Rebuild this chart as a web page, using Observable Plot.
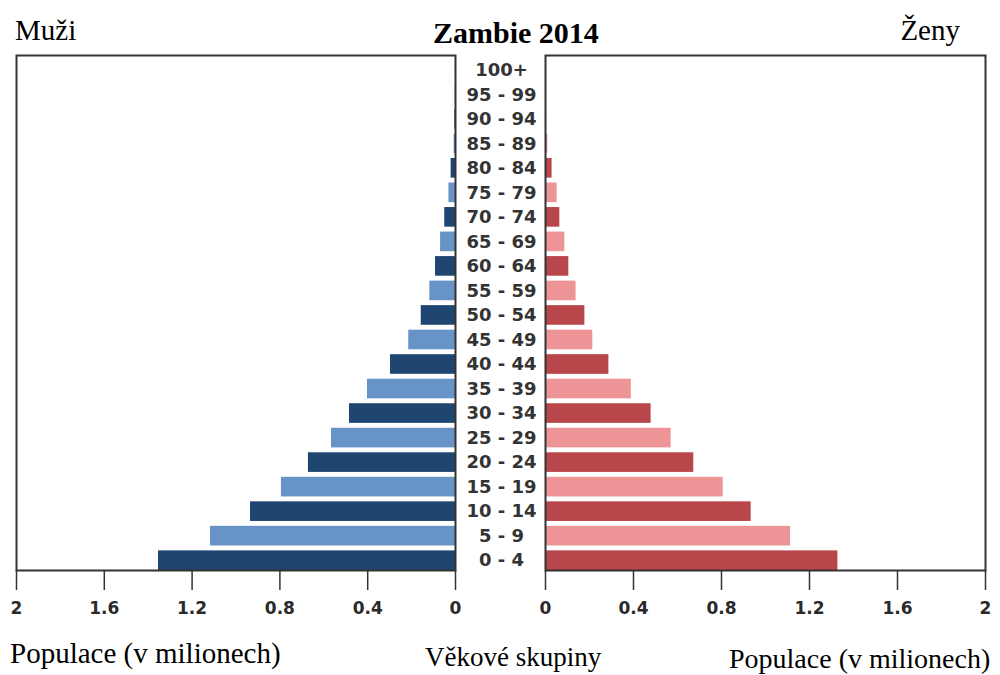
<!DOCTYPE html>
<html>
<head>
<meta charset="utf-8">
<script src="https://cdn.jsdelivr.net/npm/d3@7"></script>
<script src="https://cdn.jsdelivr.net/npm/@observablehq/plot@0.6"></script>
<style>
  html, body { margin: 0; padding: 0; background: #fff; }
  #wrap { position: relative; width: 1000px; height: 675px; overflow: hidden; background: #fff; }
  #wrap > div.panel { position: absolute; top: 0; }
  #wrap > div.panel svg { display: block; max-width: none !important; overflow: visible; }
  .t { position: absolute; font-family: "Liberation Serif", "DejaVu Serif", serif; color: #000; line-height: 1; white-space: nowrap; }
</style>
</head>
<body>
<div id="wrap">
  <div class="t" style="left:433px; top:18.4px; font-size:30px; font-weight:bold;">Zambie 2014</div>
  <div class="t" style="left:15px; top:15.7px; font-size:29px;">Muži</div>
  <div class="t" style="right:40px; top:15.7px; font-size:29px;">Ženy</div>
  <div class="t" style="left:10px; top:638.7px; font-size:29px;">Populace (v milionech)</div>
  <div class="t" style="left:425px; top:644.4px; font-size:27px;">Věkové skupiny</div>
  <div class="t" style="left:729px; top:644.5px; font-size:28px;">Populace (v milionech)</div>
  <div class="panel" id="left" style="left:0px; width:545px;"></div>
  <div class="panel" id="right" style="left:530px; width:470px;"></div>
</div>
<script>
// Age groups, bottom (youngest) to top
const ages = ["0 - 4","5 - 9","10 - 14","15 - 19","20 - 24","25 - 29","30 - 34","35 - 39","40 - 44","45 - 49","50 - 54","55 - 59","60 - 64","65 - 69","70 - 74","75 - 79","80 - 84","85 - 89","90 - 94","95 - 99","100+"];
// Population in millions
const male   = [1.353, 1.116, 0.934, 0.793, 0.670, 0.565, 0.483, 0.401, 0.296, 0.213, 0.156, 0.117, 0.091, 0.068, 0.049, 0.030, 0.020, 0.006, 0.003, 0.001, 0.0005];
const female = [1.329, 1.114, 0.935, 0.808, 0.674, 0.571, 0.480, 0.390, 0.288, 0.215, 0.179, 0.139, 0.106, 0.088, 0.065, 0.053, 0.030, 0.010, 0.005, 0.002, 0.001];
const xTicks = [0, 0.4, 0.8, 1.2, 1.6, 2];
const maleColors = ["#1f4571", "#6893c6"];
const femaleColors = ["#b8464a", "#ec9496"];

const rows = ages.map((age, i) => ({age, male: male[i], female: female[i], shade: i % 2}));
const yDomain = ages.slice().reverse();

const H = 620, MT = 55, MB = 50;
const yScale = {domain: yDomain, paddingInner: 0.2, paddingOuter: 0.1, align: 1, round: false, axis: null};
const axisStyle = {fontFamily: "DejaVu Sans, sans-serif", fontSize: "17px", fontWeight: "bold", color: "#2a2a2a", background: "transparent", overflow: "visible"};

function side(key, colors, reverse, width, ml, mr, extra) {
  return Plot.plot({
    width, height: H,
    marginTop: MT, marginBottom: MB, marginLeft: ml, marginRight: mr,
    style: axisStyle,
    x: {domain: [0, 2], reverse, label: null, axis: null},
    y: yScale,
    marks: [
      Plot.barX(rows, {x: key, y: "age", fill: d => colors[d.shade]}),
      Plot.frame({stroke: "#333", strokeWidth: 2}),
      Plot.axisX({ticks: xTicks, tickSize: 20, tickPadding: 11, tickFormat: d => String(d), stroke: "#333", strokeWidth: 1.5, fill: "#2a2a2a", label: null}),
      ...extra
    ]
  });
}

// Left (men) panel also carries the central age-group labels
const ageLabels = Plot.text(rows, {y: "age", text: "age", frameAnchor: "right", dx: 46, textAnchor: "middle", fontSize: 18, fontWeight: "bold", fill: "#333"});
document.getElementById("left").append(side("male", maleColors, true, 545, 16, 90, [ageLabels]));
document.getElementById("right").append(side("female", femaleColors, false, 470, 15, 15, []));
</script>
</body>
</html>
